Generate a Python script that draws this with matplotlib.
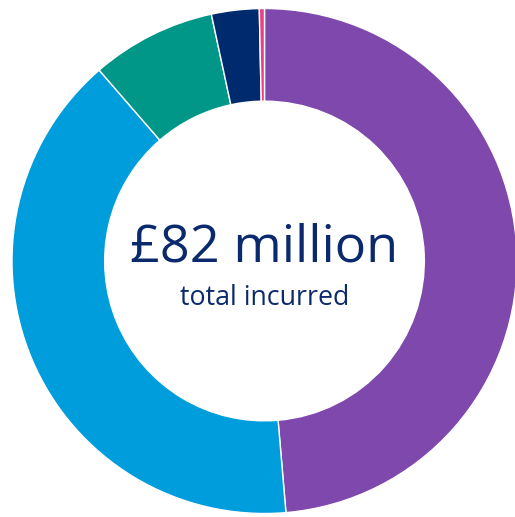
import matplotlib.pyplot as plt

# spend by category, £ million (clockwise from 12 o'clock)
values = [39.9, 32.8, 6.55, 2.5, 0.27]
colors = ['#7e48ac', '#009ddc', '#009688', '#002a6e', '#e8418a']
total_label = '£82 million'
sub_label = 'total incurred'
text_color = '#0b2a6e'

W, H = 515, 517
cx, cy, R = 264.5, 261, 252.5

fig = plt.figure(figsize=(W / 100, H / 100), dpi=100)
ax = fig.add_axes([0, 0, 1, 1])

ax.pie(values, colors=colors, startangle=90, counterclock=False, radius=1,
       wedgeprops=dict(width=0.367, edgecolor='white', linewidth=1.0))

# place the ring so one data unit = outer radius in pixels
ax.set_xlim(-cx / R, (W - cx) / R)
ax.set_ylim(-(H - cy) / R, cy / R)
ax.set_aspect('auto')
ax.axis('off')

ax.text(0, (cy - 262) / R, total_label, ha='center', va='baseline',
        fontsize=37.6, color=text_color, family='Open Sans')
ax.text(0, (cy - 305) / R, sub_label, ha='center', va='baseline',
        fontsize=19.3, color=text_color, family='Open Sans')

fig.savefig('out.png', dpi=100)
